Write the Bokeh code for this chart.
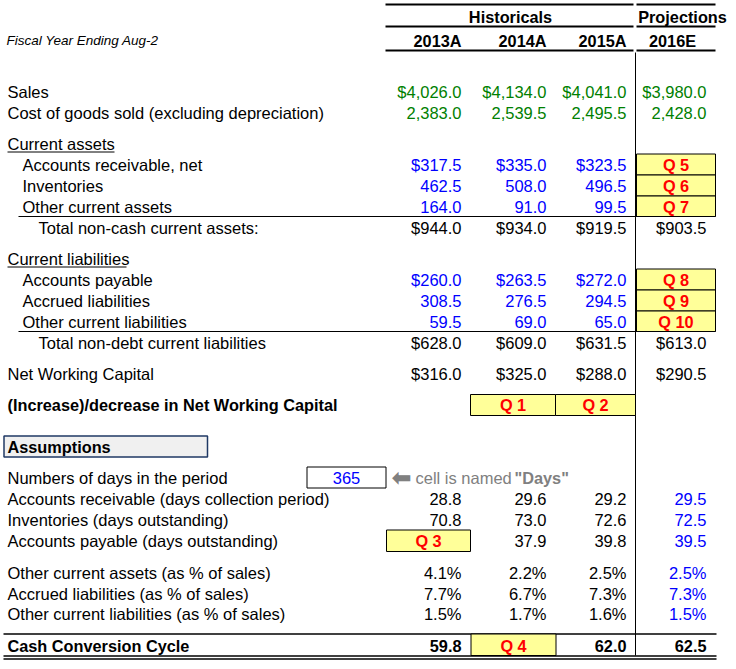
from bokeh.plotting import figure
from bokeh.models import ColumnDataSource, Range1d
from bokeh.core.properties import value
from bokeh.embed import file_html
from bokeh.resources import INLINE

# ---------------- data ----------------
group_labels = ["Historicals", "Projections"]
years = ["2013A", "2014A", "2015A", "2016E"]
fiscal_note = "Fiscal Year Ending Aug-2"

sales = [4026.0, 4134.0, 4041.0, 3980.0]
cogs = [2383.0, 2539.5, 2495.5, 2428.0]

accounts_receivable = [317.5, 335.0, 323.5]
inventories = [462.5, 508.0, 496.5]
other_current_assets = [164.0, 91.0, 99.5]
total_current_assets = [944.0, 934.0, 919.5, 903.5]

accounts_payable = [260.0, 263.5, 272.0]
accrued_liabilities = [308.5, 276.5, 294.5]
other_current_liabilities = [59.5, 69.0, 65.0]
total_current_liabilities = [628.0, 609.0, 631.5, 613.0]

net_working_capital = [316.0, 325.0, 288.0, 290.5]

days_in_period = 365
ar_days = [28.8, 29.6, 29.2, 29.5]
inventory_days = [70.8, 73.0, 72.6, 72.5]
ap_days = [None, 37.9, 39.8, 39.5]
oca_pct = [4.1, 2.2, 2.5, 2.5]
accrued_pct = [7.7, 6.7, 7.3, 7.3]
ocl_pct = [1.5, 1.7, 1.6, 1.5]
cash_conversion_cycle = [59.8, None, 62.0, 62.5]

q_assets = ["Q 5", "Q 6", "Q 7"]
q_liabs = ["Q 8", "Q 9", "Q 10"]
q_nwc = ["Q 1", "Q 2"]
q_ap_days = "Q 3"
q_ccc = "Q 4"

# ---------------- styles / layout ----------------
FONT = "Liberation Sans"
FS = "16.5px"
FSB = "16.3px"
GREEN = "#008000"
BLUE = "#0000FF"
RED = "#FF0000"
YELLOW = "#FFFF99"
GRAY = "#808080"
COLS = [461, 546, 626, 706]

p = figure(width=736, height=669, x_range=Range1d(0, 736), y_range=Range1d(669, 0),
           output_backend="svg", toolbar_location=None, min_border=0,
           x_axis_location=None, y_axis_location=None)
p.grid.visible = False
p.outline_line_color = None
p.background_fill_color = "white"


def txt(xs, ys, texts, color="black", align="left", style="normal", size=None, font=FONT):
    if size is None:
        size = FSB if "bold" in style else FS
    src = ColumnDataSource(dict(x=xs, y=ys, t=texts))
    p.text("x", "y", text="t", source=src, text_color=color, text_align=align,
           text_baseline="middle", text_font=value(font), text_font_size=size,
           text_font_style=style)


def fmt(v, dollar=False, pct=False):
    if pct:
        return f"{v:.1f}%"
    s = f"{v:,.1f}"
    return "$" + s if dollar else s


def value_row(vals, y, color="black", dollar=False, pct=False, style="normal", color_last=None):
    xs, ys, ts, cs = [], [], [], []
    for i, v in enumerate(vals):
        if v is None:
            continue
        xs.append(COLS[i]); ys.append(y); ts.append(fmt(v, dollar, pct))
        cs.append(color_last if (color_last and i == 3) else color)
    src = ColumnDataSource(dict(x=xs, y=ys, t=ts, c=cs))
    p.text("x", "y", text="t", source=src, text_color="c", text_align="right",
           text_baseline="middle", text_font=value(FONT),
           text_font_size=FSB if style == "bold" else FS, text_font_style=style)


def boxes(lefts, rights, tops, bottoms, fill=YELLOW, line="black", lw=1):
    p.quad(left=lefts, right=rights, top=tops, bottom=bottoms, fill_color=fill,
           line_color=line, line_width=lw)


# ---------------- header ----------------
p.segment(x0=[385, 636, 385, 636, 385, 636], y0=[4, 4, 26, 26, 50, 50],
          x1=[633, 715, 633, 715, 633, 715], y1=[4, 4, 26, 26, 50, 50],
          line_color="black", line_width=2)
txt([510, 682], [16, 16], group_labels, align="center", style="bold")
txt(COLS[:3], [40] * 3, years[:3], align="right", style="bold")
txt([672], [40], years[3:], align="center", style="bold")
txt([6], [40], [fiscal_note], style="italic", size="13.5px")

# vertical separator for projections
p.segment(x0=[635], y0=[52], x1=[635], y1=[655], line_color="black", line_width=1)

# ---------------- income lines ----------------
txt([7, 7], [91, 112], ["Sales", "Cost of goods sold (excluding depreciation)"])
value_row(sales, 91, GREEN, dollar=True)
value_row(cogs, 112, GREEN)

# ---------------- current assets ----------------
txt([7], [143], ["Current assets"])
p.segment(x0=[7], y0=[151.5], x1=[114], y1=[151.5], line_color="black", line_width=1)
txt([22, 22, 22], [164, 185, 206],
    ["Accounts receivable, net", "Inventories", "Other current assets"])
value_row(accounts_receivable, 164, BLUE, dollar=True)
value_row(inventories, 185, BLUE)
value_row(other_current_assets, 206, BLUE)
boxes([636] * 3, [715] * 3, [153.5, 174.5, 195.5], [174.5, 195.5, 216])
txt([675.5] * 3, [164, 185, 206], q_assets, color=RED, align="center", style="bold")
p.segment(x0=[18], y0=[216], x1=[715], y1=[216], line_color="black", line_width=1)
txt([38], [227], ["Total non-cash current assets:"])
value_row(total_current_assets, 227, dollar=True)

# ---------------- current liabilities ----------------
txt([7], [258], ["Current liabilities"])
p.segment(x0=[7], y0=[266.5], x1=[126], y1=[266.5], line_color="black", line_width=1)
txt([22, 22, 22], [279, 300, 321],
    ["Accounts payable", "Accrued liabilities", "Other current liabilities"])
value_row(accounts_payable, 279, BLUE, dollar=True)
value_row(accrued_liabilities, 300, BLUE)
value_row(other_current_liabilities, 321, BLUE)
boxes([636] * 3, [715] * 3, [268.5, 289.5, 310.5], [289.5, 310.5, 331])
txt([675.5] * 3, [279, 300, 321], q_liabs, color=RED, align="center", style="bold")
p.segment(x0=[18], y0=[331], x1=[715], y1=[331], line_color="black", line_width=1)
txt([38], [342], ["Total non-debt current liabilities"])
value_row(total_current_liabilities, 342, dollar=True)

# ---------------- NWC ----------------
txt([7], [373], ["Net Working Capital"])
value_row(net_working_capital, 373, dollar=True)
txt([7], [404], ["(Increase)/decrease in Net Working Capital"], style="bold")
boxes([470, 555], [555, 635], [394, 394], [415, 415])
txt([512.5, 595], [404, 404], q_nwc, color=RED, align="center", style="bold")

# ---------------- assumptions ----------------
boxes([3.5], [207], [435.5], [456.5], fill="#F0F0F0", line="#1F3864", lw=1.5)
txt([7], [446], ["Assumptions"], style="bold")

txt([7], [477], ["Numbers of days in the period"])
boxes([306.5], [385.5], [466.5], [487.5], fill="white")
txt([346], [477], [str(days_in_period)], color=BLUE, align="center")
txt([391], [477], ["\u2b05"], color=GRAY, font="DejaVu Sans", size="24px", style="bold")
txt([415], [477], ["cell is named "], color=GRAY)
txt([514], [477], ['"Days"'], color=GRAY, style="bold")

txt([7, 7, 7], [498, 519, 540],
    ["Accounts receivable (days collection period)", "Inventories (days outstanding)",
     "Accounts payable (days outstanding)"])
value_row(ar_days, 498, color_last=BLUE)
value_row(inventory_days, 519, color_last=BLUE)
value_row(ap_days, 540, color_last=BLUE)
boxes([386], [470], [529.5], [551])
txt([428], [540], [q_ap_days], color=RED, align="center", style="bold")

txt([7, 7, 7], [572, 593, 613],
    ["Other current assets (as % of sales)", "Accrued liabilities (as % of sales)",
     "Other current liabilities (as % of sales)"])
value_row(oca_pct, 572, pct=True, color_last=BLUE)
value_row(accrued_pct, 593, pct=True, color_last=BLUE)
value_row(ocl_pct, 613, pct=True, color_last=BLUE)

# ---------------- cash conversion cycle ----------------
p.segment(x0=[3], y0=[633.5], x1=[716], y1=[633.5], line_color="black", line_width=1.5)
boxes([470.5], [555.5], [633.5], [655])
txt([7], [645], ["Cash Conversion Cycle"], style="bold")
value_row(cash_conversion_cycle, 645, style="bold")
txt([513], [645], [q_ccc], color=RED, align="center", style="bold")
p.segment(x0=[3, 3], y0=[655.5, 658.5], x1=[716, 716], y1=[655.5, 658.5],
          line_color="black", line_width=1.3)

open("out.html", "w").write(file_html(p, INLINE))
